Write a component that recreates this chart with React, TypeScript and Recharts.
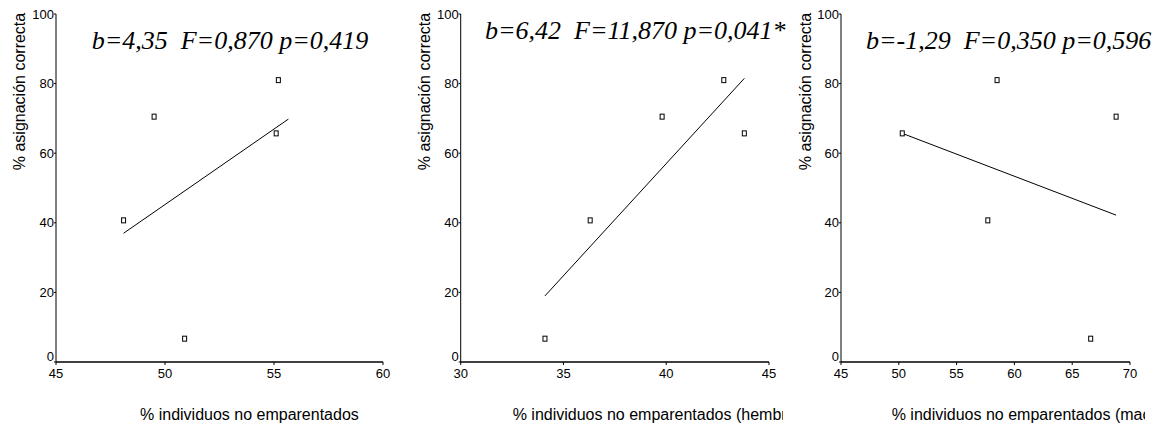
import { ScatterChart, Scatter, XAxis, YAxis, Label } from 'recharts'

// % asignación correcta, same five populations in every panel
const asignacion = [70.5, 81, 65.7, 40.7, 6.7]

// % individuos no emparentados
const noEmpTotal = [49.5, 55.2, 55.1, 48.1, 50.9]
const noEmpHembras = [39.8, 42.8, 43.8, 36.3, 34.1]
const noEmpMachos = [68.8, 58.5, 50.3, 57.7, 66.6]

// fitted regression lines (end points)
const fitTotalX = [48.1, 55.66]
const fitTotalY = [37.0, 69.8]
const fitHembrasX = [34.1, 43.8]
const fitHembrasY = [19.0, 81.5]
const fitMachosX = [50.3, 68.8]
const fitMachosY = [65.7, 42.2]

const yTicks = [0, 20, 40, 60, 80, 100]
const xTicksTotal = [45, 50, 55, 60]
const xTicksHembras = [30, 35, 40, 45]
const xTicksMachos = [45, 50, 55, 60, 65, 70]

const titles = [
  'b=4,35  F=0,870 p=0,419',
  'b=6,42  F=11,870 p=0,041*',
  'b=-1,29  F=0,350 p=0,596',
]
const xLabels = [
  '% individuos no emparentados',
  '% individuos no emparentados (hembras)',
  '% individuos no emparentados (machos)',
]
const yLabel = '% asignación correcta'

const SANS = '"Liberation Sans", Arial, sans-serif'
const SERIF = '"Liberation Serif", "Times New Roman", serif'
const HEIGHT = 425

const toPoints = (xs: number[], ys: number[]) => xs.map((x, i) => ({ x, y: ys[i] }))

const Marker = (props: any) => {
  const { cx, cy } = props
  if (cx == null || cy == null) return <g />
  return <rect x={cx - 2} y={cy - 2.5} width={4} height={5} fill="#fff" stroke="#000" strokeWidth={1} />
}

// y tick: the zero label sits a little above the axis, as in the original
const YTick = (props: any) => {
  const { x, y, payload } = props
  const lift = payload.value === 0 ? -6 : 0
  return (
    <text x={x} y={y + lift} dy="0.355em" textAnchor="end" fontSize={13} fontFamily={SANS} fill="#000">
      {payload.value}
    </text>
  )
}

interface PanelProps {
  left: number
  width: number
  plotLeft: number
  plotRight: number
  xs: number[]
  fitX: number[]
  fitY: number[]
  xTicks: number[]
  xLabel: string
  xLabelStart: number
  yLabelX: number
}

function Panel({ left, width, plotLeft, plotRight, xs, fitX, fitY, xTicks, xLabel, xLabelStart, yLabelX }: PanelProps) {
  const points = toPoints(xs, asignacion)
  const fit = toPoints(fitX, fitY)
  const domain: [number, number] = [xTicks[0], xTicks[xTicks.length - 1]]

  return (
    <div style={{ position: 'absolute', left, top: 0, width, height: HEIGHT, overflow: 'hidden' }}>
      <ScatterChart
        width={width}
        height={HEIGHT}
        margin={{ top: 14, right: width - plotRight, bottom: 13, left: 0 }}
      >
        <XAxis
          type="number"
          dataKey="x"
          domain={domain}
          ticks={xTicks}
          allowDataOverflow
          height={50}
          axisLine={{ stroke: '#000', strokeWidth: 1.5 }}
          tickLine={{ stroke: '#000' }}
          tickSize={3}
          tickMargin={4}
          tick={{ fill: '#000', fontSize: 13, fontFamily: SANS }}
        >
          <Label
            content={() => (
              <text x={xLabelStart} y={420} fontSize={16} fontFamily={SANS} fill="#000">
                {xLabel}
              </text>
            )}
          />
        </XAxis>
        <YAxis
          type="number"
          dataKey="y"
          domain={[0, 100]}
          ticks={yTicks}
          width={plotLeft}
          axisLine={{ stroke: '#000', strokeWidth: 1 }}
          tickLine={{ stroke: '#000' }}
          tickSize={2}
          tickMargin={0}
          tick={<YTick />}
        >
          <Label
            content={() => (
              <text
                x={yLabelX}
                y={91.5}
                transform={`rotate(-90 ${yLabelX} 91.5)`}
                textAnchor="middle"
                fontSize={16}
                fontFamily={SANS}
                fill="#000"
              >
                {yLabel}
              </text>
            )}
          />
        </YAxis>
        <Scatter
          data={fit}
          line={{ stroke: '#000', strokeWidth: 1 }}
          shape={() => <g />}
          isAnimationActive={false}
        />
        <Scatter data={points} shape={Marker} isAnimationActive={false} />
      </ScatterChart>
    </div>
  )
}

const Title = ({ text, left, baseline }: { text: string; left: number; baseline: number }) => (
  <div
    style={{
      position: 'absolute',
      left,
      top: baseline - 22,
      fontFamily: SERIF,
      fontStyle: 'italic',
      fontSize: 26,
      lineHeight: '26px',
      whiteSpace: 'pre',
      color: '#000',
    }}
  >
    {text}
  </div>
)

export default function App() {
  return (
    <div style={{ position: 'absolute', left: 0, top: 0, width: 1169, height: HEIGHT, background: '#fff' }}>
      <Panel
        left={0}
        width={400}
        plotLeft={56}
        plotRight={383}
        xs={noEmpTotal}
        fitX={fitTotalX}
        fitY={fitTotalY}
        xTicks={xTicksTotal}
        xLabel={xLabels[0]}
        xLabelStart={140}
        yLabelX={24.5}
      />
      <Panel
        left={400}
        width={383}
        plotLeft={60.7}
        plotRight={369}
        xs={noEmpHembras}
        fitX={fitHembrasX}
        fitY={fitHembrasY}
        xTicks={xTicksHembras}
        xLabel={xLabels[1]}
        xLabelStart={112.7}
        yLabelX={29.5}
      />
      <Panel
        left={790}
        width={355}
        plotLeft={51}
        plotRight={340}
        xs={noEmpMachos}
        fitX={fitMachosX}
        fitY={fitMachosY}
        xTicks={xTicksMachos}
        xLabel={xLabels[2]}
        xLabelStart={101.7}
        yLabelX={21}
      />
      <Title text={titles[0]} left={91.7} baseline={50} />
      <Title text={titles[1]} left={485} baseline={40} />
      <Title text={titles[2]} left={866} baseline={50} />
    </div>
  )
}
